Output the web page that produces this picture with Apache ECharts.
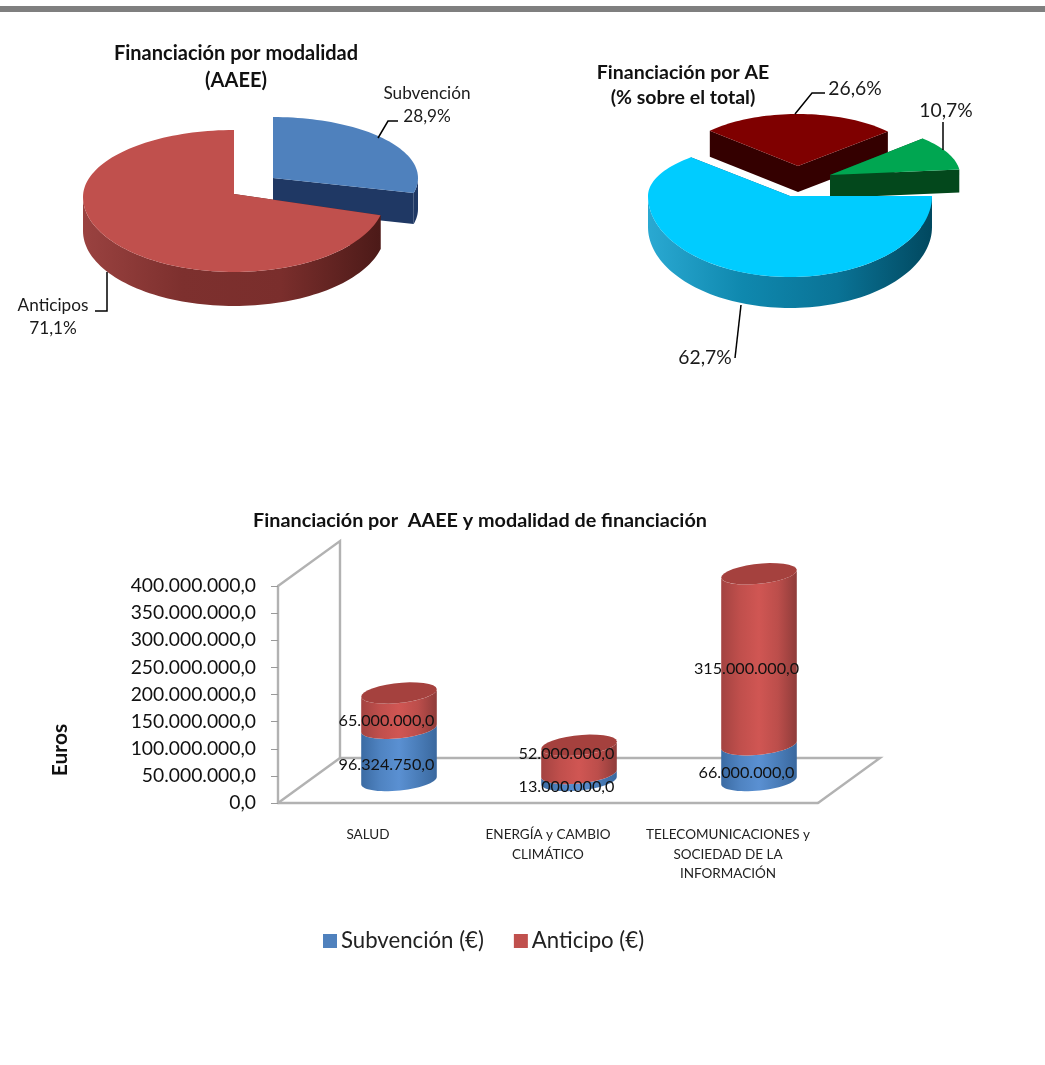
<!DOCTYPE html>
<html><head><meta charset="utf-8">
<script src="https://cdn.jsdelivr.net/npm/echarts@6/dist/echarts.min.js"></script>
<style>html,body{margin:0;padding:0;background:#fff}#c{width:1045px;height:1065px}</style>
</head><body><div id="c"></div>
<script>
// ---- data ----
const modalidadNames = ['Subvención', 'Anticipos'];
const modalidadPct = [28.9, 71.1];
const aePct = [62.7, 26.6, 10.7];
const categories = ['SALUD', 'ENERGÍA y CAMBIO\nCLIMÁTICO', 'TELECOMUNICACIONES y\nSOCIEDAD DE LA\nINFORMACIÓN'];
const subvencion = [96324750, 13000000, 66000000];
const anticipo = [65000000, 52000000, 315000000];
const yTicks = {min: 0, max: 400000000, interval: 50000000};

// ---- layout / style ----
const FONT = 'Lato';
const pie1 = {
  start: 0, values: modalidadPct,
  slices: [
    {apex: [273, 178], rx: 145, ryB: 61, ryF: 62, shift: 0, depth: 31, turn: 0, z: 1, top: '#4f81bd', side: '#1f3864', wall: ['#1f3864', '#1f3864']},
    {apex: [234, 194], rx: 151, ryB: 64, ryF: 78, shift: 3, depth: 34, turn: 0, z: 2, top: '#c0504d', side: '#5a1f1d', wall: ['#9a4240', '#7d302e', '#7a2e2c', '#4c1a18']}
  ],
  labels: [
    {x: 427, y: 93, size: 17.2, name: modalidadNames[0], line: 23, leader: [[378, 138], [388, 121], [398, 121]]},
    {x: 53, y: 305, size: 17.2, name: modalidadNames[1], line: 23, leader: [[107, 272], [107, 311], [95, 311]]}
  ]
};
const pie2 = {
  start: 90, values: aePct,
  slices: [
    {apex: [790, 196], rx: 142, ryB: 54, ryF: 81, shift: 0, depth: 31, turn: 0, z: 3, top: '#00ccff', side: '#026080', wall: ['#2aa9d2', '#0f88ae', '#0a7396', '#01485f']},
    {apex: [798, 166], rx: 120, ryB: 52, ryF: 52, shift: 0, depth: 26, turn: -3, z: 1, top: '#7f0000', side: '#340000', wall: ['#340000', '#340000']},
    {apex: [830, 175], rx: 130, ryB: 52, ryF: 52, shift: 0, depth: 23, turn: -6, z: 2, top: '#00a651', side: '#03481c', wall: ['#03481c', '#03481c']}
  ],
  labels: [
    {x: 705, y: 357, size: 19.3, leader: [[741, 305], [735, 358]]},
    {x: 855, y: 88, size: 19.3, leader: [[795, 114], [812, 93], [825, 93]]},
    {x: 946, y: 110, size: 19.3, leader: [[943, 122], [943, 150]]}
  ]
};
const depthX = 62, depthY = -45;
const cyl = {rx: 38, ry: 10, tilt: -6 * Math.PI / 180};
const labelNudge = {'1-1': -16};

const pct = v => v.toFixed(1).replace('.', ',') + '%';
const money = v => {
  const [a, b] = v.toFixed(1).split('.');
  return a.replace(/\B(?=(\d{3})+(?!\d))/g, '.') + ',' + b;
};

function rim(s, deg) {
  const t = (deg + s.turn) * Math.PI / 180, c = Math.cos(t);
  return [s.apex[0] + s.rx * Math.sin(t), s.apex[1] + s.shift * (1 - Math.abs(c)) - (c > 0 ? s.ryB : s.ryF) * c];
}
function rimPts(s, a, b) {
  const n = Math.max(2, Math.ceil(Math.abs(b - a) / 2)), out = [];
  for (let i = 0; i <= n; i++) out.push(rim(s, a + (b - a) * i / n));
  return out;
}
const down = (pts, d) => pts.map(p => [p[0], p[1] + d]);
const poly = (points, fill, z2) => ({type: 'polygon', z2, shape: {points}, style: {fill}});
const hGrad = cols => ({type: 'linear', x: 0, y: 0, x2: 1, y2: 0,
  colorStops: cols.map((c, i) => ({offset: i / (cols.length - 1), color: c}))});

function pieRender(pie) {
  return function (params, api) {
    const i = params.dataIndex;
    const s = pie.slices[i], L = pie.labels[i];
    let from = pie.start;
    for (let k = 0; k < i; k++) from += pie.values[k] * 3.6;
    const to = from + pie.values[i] * 3.6;
    const ch = [], z = s.z * 10;
    const face = pts => poly(pts.concat(down(pts, s.depth).reverse()), s.side, z);
    ch.push(face([s.apex, rim(s, from)]));
    ch.push(face([s.apex, rim(s, to)]));
    [[90, 270], [450, 630]].forEach(([lo, hi]) => {
      const a = Math.max(from, lo), b = Math.min(to, hi);
      if (b > a) {
        const r = rimPts(s, a, b);
        ch.push(poly(r.concat(down(r, s.depth).reverse()), hGrad(s.wall), z + 1));
      }
    });
    ch.push(poly([s.apex].concat(rimPts(s, from, to)), s.top, z + 2));
    ch.push({type: 'polyline', z2: 100, shape: {points: L.leader}, style: {fill: null, stroke: '#000', lineWidth: 1.5}});
    const txt = (L.name ? L.name + '\n' : '') + pct(api.value(0));
    ch.push({type: 'text', z2: 101, style: {text: txt, x: L.x, y: L.y - 11, align: 'center', verticalAlign: 'top',
      fill: '#1a1a1a', font: L.size + 'px ' + FONT, lineHeight: L.line || 23}});
    return {type: 'group', children: ch};
  };
}

function arc(cx, cy, t0, t1) {
  const out = [], n = 30, ca = Math.cos(cyl.tilt), sa = Math.sin(cyl.tilt);
  for (let i = 0; i <= n; i++) {
    const t = t0 + (t1 - t0) * i / n, x = cyl.rx * Math.cos(t), y = cyl.ry * Math.sin(t);
    out.push([cx + x * ca - y * sa, cy + x * sa + y * ca]);
  }
  return out;
}
function cylRender(cols, topCol) {
  return function (params, api) {
    const i = api.value(0);
    const a = api.coord([i, api.value(1)]), b = api.coord([i, api.value(2)]);
    const cx = a[0] + depthX / 2, y0 = a[1] + depthY / 2, y1 = b[1] + depthY / 2;
    const ch = [poly(arc(cx, y0, 0, Math.PI).concat(arc(cx, y1, Math.PI, 0)), hGrad(cols), 1)];
    if (topCol) ch.push(poly(arc(cx, y1, 0, Math.PI * 2), topCol, 2));
    return {type: 'group', children: ch};
  };
}
function labelRender(params, api) {
  const i = api.value(0), k = api.value(3);
  const p = api.coord([i, (api.value(1) + api.value(2)) / 2]);
  const nudge = labelNudge[i + '-' + k] || 0;
  return {type: 'text', style: {text: money(api.value(2) - api.value(1)), x: p[0] + depthX / 2 - 12.5, y: p[1] + depthY / 2 + 10 + nudge,
    align: 'center', verticalAlign: 'middle', fill: '#111', font: '16.2px ' + FONT}};
}
function frameRender(params) {
  const g = params.coordSys, x0 = g.x, y0 = g.y + g.height, x1 = g.x + g.width, yt = g.y;
  const ln = pts => ({type: 'polyline', shape: {points: pts}, style: {fill: null, stroke: '#b2b2b2', lineWidth: 2.4}});
  return {type: 'group', children: [
    ln([[x0, yt], [x0 + depthX, yt + depthY], [x0 + depthX, y0 + depthY]]),
    ln([[x0, y0], [x0 + depthX, y0 + depthY], [x1 + depthX, y0 + depthY], [x1, y0]])
  ]};
}

const bluePts = subvencion.map((v, i) => [i, 0, v]);
const redPts = anticipo.map((v, i) => [i, subvencion[i], subvencion[i] + v]);
const labelPts = bluePts.map(p => [...p, 0]).concat(redPts.map(p => [...p, 1]));

const chart = echarts.init(document.getElementById('c'), null, {renderer: 'canvas'});
const titleStyle = (size, lh) => ({fontFamily: FONT, fontWeight: 'bold', fontSize: size, color: '#111', lineHeight: lh});
chart.setOption({
  animation: false,
  backgroundColor: '#fff',
  title: [
    {text: 'Financiación por modalidad\n(AAEE)', left: 236, top: 40, textAlign: 'center', padding: 0, textStyle: titleStyle(20, 27)},
    {text: 'Financiación por AE\n(% sobre el total)', left: 683, top: 60, textAlign: 'center', padding: 0, textStyle: titleStyle(19.5, 25)},
    {text: 'Financiación por  AAEE y modalidad de financiación', left: 480, top: 511, textAlign: 'center', padding: 0, textStyle: titleStyle(19.8, 20)}
  ],
  legend: {
    left: 323, top: 930, padding: 0, itemWidth: 14, itemHeight: 14, itemGap: 30,
    icon: 'rect', data: ['Subvención (€)', 'Anticipo (€)'],
    textStyle: {fontFamily: FONT, fontSize: 22.2, color: '#222', padding: [0, 0, 0, -1]}
  },
  grid: {left: 278, right: 227, top: 586, bottom: 262},
  xAxis: {
    type: 'category', data: categories,
    axisLine: {lineStyle: {color: '#b2b2b2', width: 2.4}},
    axisTick: {length: 4, lineStyle: {color: '#9a9a9a'}},
    axisLabel: {interval: 0, margin: 22, fontFamily: FONT, fontSize: 13.5, lineHeight: 19.5, color: '#222'}
  },
  yAxis: {
    type: 'value', min: yTicks.min, max: yTicks.max, interval: yTicks.interval,
    splitLine: {show: false},
    axisLine: {show: true, lineStyle: {color: '#b2b2b2', width: 2.4}},
    axisTick: {show: true, length: 7, lineStyle: {color: '#9a9a9a'}},
    axisLabel: {margin: 22, fontFamily: FONT, fontSize: 19.3, color: '#111', formatter: money}
  },
  graphic: [
    {type: 'rect', shape: {x: 0, y: 6, width: 1045, height: 6}, style: {fill: '#7f7f7f'}},
    {type: 'text', x: 60, y: 750, rotation: Math.PI / 2, style: {text: 'Euros', align: 'center', verticalAlign: 'middle',
      font: 'bold 21px ' + FONT, fill: '#111'}}
  ],
  series: [
    {type: 'custom', name: 'frame', z: 1, silent: true, renderItem: frameRender, data: [[0, 0]], encode: {x: 0, y: 1}},
    {type: 'custom', name: 'Subvención (€)', z: 2, itemStyle: {color: '#4f81bd'}, renderItem: cylRender(['#3b6ba3', '#4f83c1', '#5a90d2', '#4a7db9', '#3a689e']),
      data: bluePts, encode: {x: 0, y: [1, 2]}},
    {type: 'custom', name: 'Anticipo (€)', z: 3, itemStyle: {color: '#c0504d'}, renderItem: cylRender(['#a34341', '#c04f4c', '#d05653', '#bc4e4b', '#8f3c3a'], '#a5413e'),
      data: redPts, encode: {x: 0, y: [1, 2]}},
    {type: 'custom', name: 'labels', z: 5, silent: true, renderItem: labelRender, data: labelPts, encode: {x: 0, y: [1, 2]}},
    {type: 'custom', name: 'Financiación por modalidad', coordinateSystem: 'none', z: 6, silent: true, renderItem: pieRender(pie1), data: modalidadPct.map(v => [v])},
    {type: 'custom', name: 'Financiación por AE', coordinateSystem: 'none', z: 6, silent: true, renderItem: pieRender(pie2), data: aePct.map(v => [v])}
  ]
});
</script></body></html>
